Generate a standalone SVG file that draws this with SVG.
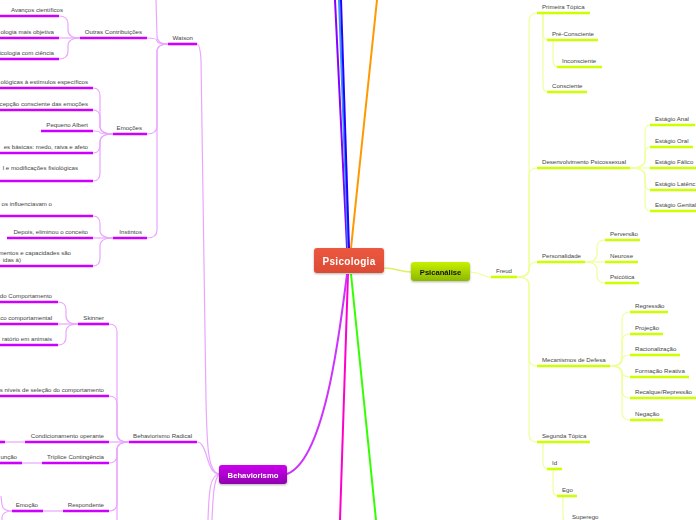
<svg xmlns="http://www.w3.org/2000/svg" width="696" height="520" viewBox="0 0 696 520">
<defs>
<style>
.t{font-family:"Liberation Sans",Arial,sans-serif;font-size:6.1px;fill:#444}
.e{text-anchor:end}
.up{stroke:#cc00ff;stroke-width:2.6}
.uy{stroke:#ccff00;stroke-width:2.6}
.cp{fill:none;stroke:#eaa6ff;stroke-width:1.2}
.cy{fill:none;stroke:#eeff99;stroke-width:1.2}
.m{fill:none;stroke-width:2}
.nt{font-family:"Liberation Sans",Arial,sans-serif;font-weight:bold;text-anchor:middle}
</style>
<linearGradient id="gy" x1="0" y1="0" x2="0" y2="1"><stop offset="0" stop-color="#c8f000"/><stop offset="1" stop-color="#8cb800"/></linearGradient>
<linearGradient id="gp" x1="0" y1="0" x2="0" y2="1"><stop offset="0" stop-color="#cc00ee"/><stop offset="1" stop-color="#9000b0"/></linearGradient>
<linearGradient id="gr" x1="0" y1="0" x2="0" y2="1"><stop offset="0" stop-color="#ec5840"/><stop offset="1" stop-color="#dc4b34"/></linearGradient>
<filter id="sh" x="-20%" y="-20%" width="140%" height="160%"><feDropShadow dx="0" dy="1" stdDeviation="0.8" flood-color="#000" flood-opacity="0.3"/></filter>
</defs>
<rect width="696" height="520" fill="#fff"/>

<g id="connectors">
<path class="m" stroke="#8800ff" d="M347,248 L335,0"/>
<path class="m" stroke="#3399ff" d="M348,248 L339,0"/>
<path class="m" stroke="#2200ff" d="M349,248 L341,0"/>
<path class="m" stroke="#ff9900" d="M351,248 L377,0"/>
<path class="m" stroke="#ff00cc" d="M348,274 L340,520"/>
<path class="m" stroke="#33ff00" d="M351,274 L376,520"/>
<path class="m" stroke="#cc33ff" d="M347,274 C340,330 325,460 287,474"/>
<path fill="none" stroke="#e0f060" stroke-width="1.5" d="M384,268 C396,268 400,272 411,272"/>
<path class="cy" d="M470,272 C482,272 482,277 491,277"/>
<path class="cy" d="M517,277 Q529,277 529,269 L529,23 Q529,13 537,13"/>
<path class="cy" d="M517,277 Q529,277 529,269 L529,176 Q529,168 537,168"/>
<path class="cy" d="M517,277 Q529,277 529,269.5 Q529,262 537,262"/>
<path class="cy" d="M517,277 Q529,277 529,285 L529,358 Q529,366 537,366"/>
<path class="cy" d="M517,277 Q529,277 529,285 L529,434 Q529,442 537,442"/>
<path class="cy" d="M543,13 L543,33 Q543,40 548,40"/>
<path class="cy" d="M543,13 L543,85 Q543,92 548,92"/>
<path class="cy" d="M553,40 L553,60 Q553,67 558,67"/>
<path class="cy" d="M543,442 L543,462 Q543,469 548,469"/>
<path class="cy" d="M553,469 L553,489 Q553,496 558,496"/>
<path class="cy" d="M563,496 L563,516 Q563,523 568,523"/>
<path class="cy" d="M630,168 Q645,168 645,160 L645,133 Q645,125 650,125"/>
<path class="cy" d="M630,168 Q645,168 645,160 L645,155 Q645,147 650,147"/>
<path class="cy" d="M630,168 L650,168"/>
<path class="cy" d="M630,168 Q645,168 645,176 L645,182 Q645,190 650,190"/>
<path class="cy" d="M630,168 Q645,168 645,176 L645,203 Q645,211 650,211"/>
<path class="cy" d="M585,262 Q597,262 597,254 L597,248 Q597,240 605,240"/>
<path class="cy" d="M585,262 L605,262"/>
<path class="cy" d="M585,262 Q597,262 597,270 L597,275 Q597,283 605,283"/>
<path class="cy" d="M610,366 Q622,366 622,358 L622,320 Q622,312 630,312"/>
<path class="cy" d="M610,366 Q622,366 622,358 L622,342 Q622,334 630,334"/>
<path class="cy" d="M610,366 Q622,366 622,360.5 Q622,355 630,355"/>
<path class="cy" d="M610,366 Q622,366 622,371.5 Q622,377 630,377"/>
<path class="cy" d="M610,366 Q622,366 622,374 L622,390 Q622,398 630,398"/>
<path class="cy" d="M610,366 Q622,366 622,374 L622,412 Q622,420 630,420"/>
<path class="cp" d="M219,474 C207,472 207,440 206,400 L201,60 Q200,44 197,44"/>
<path class="cp" d="M219,474 C206,474 208,442 197,442"/>
<path class="cp" d="M219,474 C210,476 209,490 208,520"/>
<path class="cp" d="M219,474 C214,480 213,495 212,520"/>
<path class="cp" d="M168,44 Q157,44 157,36 L156,0"/>
<path class="cp" d="M168,44 Q157,44 157,41 Q157,38 147,38"/>
<path class="cp" d="M168,44 Q157,44 157,52 L157,126 Q157,134 147,134"/>
<path class="cp" d="M168,44 Q157,44 157,52 L157,230 Q157,238 147,238"/>
<path class="cp" d="M80,38 Q68,38 68,30 L68,24 Q68,16 59,16"/>
<path class="cp" d="M80,38 L59,38"/>
<path class="cp" d="M80,38 Q68,38 68,46 L68,51 Q68,59 59,59"/>
<path class="cp" d="M113,134 Q100,134 100,126 L100,96 Q100,88 93,88"/>
<path class="cp" d="M113,134 Q100,134 100,126 L100,118 Q100,110 93,110"/>
<path class="cp" d="M113,134 Q100,134 100,132.5 Q100,131 93,131"/>
<path class="cp" d="M113,134 Q100,134 100,142 L100,145 Q100,153 93,153"/>
<path class="cp" d="M113,134 Q100,134 100,142 L100,173 Q100,181 93,181"/>
<path class="cp" d="M113,238 Q100,238 100,230 L100,224 Q100,216 93,216"/>
<path class="cp" d="M113,238 L93,238"/>
<path class="cp" d="M113,238 Q100,238 100,246 L100,258 Q100,266 93,266"/>
<path class="cp" d="M129,442 Q117,442 117,434 L117,332 Q117,324 109,324"/>
<path class="cp" d="M129,442 Q117,442 117,434 L117,404 Q117,396 109,396"/>
<path class="cp" d="M129,442 L109,442"/>
<path class="cp" d="M129,442 Q117,442 117,450 L117,455 Q117,463 109,463"/>
<path class="cp" d="M129,442 Q117,442 117,450 L117,503 Q117,511 109,511"/>
<path class="cp" d="M129,442 Q117,442 117,450 L117,520"/>
<path class="cp" d="M78,324 Q66,324 66,316 L66,310 Q66,302 58,302"/>
<path class="cp" d="M78,324 L58,324"/>
<path class="cp" d="M78,324 Q66,324 66,332 L66,337 Q66,345 58,345"/>
<path class="cp" d="M25,442 L5,442"/>
<path class="cp" d="M42,463 L22,463"/>
<path class="cp" d="M63,511 L43,511"/>
<path class="cp" d="M12,511 Q3,511 2,505 L1,496"/>
<path class="cp" d="M12,511 Q3,511 2,517 L2,522"/>
</g>

<g id="psicologia" filter="url(#sh)"><rect x="314" y="248" width="70" height="25" rx="3" fill="url(#gr)"/><text class="nt" x="349" y="264.5" font-size="10" fill="#fff" letter-spacing="0.3">Psicologia</text></g>
<g id="psicanalise" filter="url(#sh)"><rect x="411" y="262" width="59" height="19" rx="3" fill="url(#gy)"/><text class="nt" x="440.5" y="274.5" font-size="7.6" fill="#111">Psicanálise</text></g>
<g id="behaviorismo" filter="url(#sh)"><rect x="219" y="465" width="68" height="19" rx="3" fill="url(#gp)"/><text class="nt" x="253" y="477.5" font-size="7.7" fill="#fff">Behaviorismo</text></g>

<g id="right-nodes">
<g id="freud"><line class="uy" x1="491" y1="277" x2="517" y2="277"/><text class="t" x="496" y="273">Freud</text></g>
<g id="primeira"><line class="uy" x1="537" y1="13" x2="590" y2="13"/><text class="t" x="542" y="9">Primeira Tópica</text></g>
<g id="pre"><line class="uy" x1="547" y1="40" x2="598" y2="40"/><text class="t" x="552" y="36">Pré-Consciente</text></g>
<g id="inconsciente"><line class="uy" x1="557" y1="67" x2="602" y2="67"/><text class="t" x="562" y="63">Inconsciente</text></g>
<g id="consciente"><line class="uy" x1="547" y1="92" x2="587" y2="92"/><text class="t" x="552" y="88">Consciente</text></g>
<g id="desenv"><line class="uy" x1="537" y1="168" x2="630" y2="168"/><text class="t" x="542" y="164">Desenvolvimento Psicossexual</text></g>
<g id="anal"><line class="uy" x1="650" y1="125" x2="695" y2="125"/><text class="t" x="655" y="121">Estágio Anal</text></g>
<g id="oral"><line class="uy" x1="650" y1="147" x2="693" y2="147"/><text class="t" x="655" y="143">Estágio Oral</text></g>
<g id="falico"><line class="uy" x1="650" y1="168" x2="696" y2="168"/><text class="t" x="655" y="164">Estágio Fálico</text></g>
<g id="latencia"><line class="uy" x1="650" y1="190" x2="696" y2="190"/><text class="t" x="655" y="186">Estágio Latênc</text></g>
<g id="genital"><line class="uy" x1="650" y1="211" x2="696" y2="211"/><text class="t" x="655" y="207">Estágio Genital</text></g>
<g id="personalidade"><line class="uy" x1="537" y1="262" x2="585" y2="262"/><text class="t" x="542" y="258">Personalidade</text></g>
<g id="perversao"><line class="uy" x1="605" y1="240" x2="640" y2="240"/><text class="t" x="610" y="236">Perversão</text></g>
<g id="neurose"><line class="uy" x1="605" y1="262" x2="638" y2="262"/><text class="t" x="610" y="258">Neurose</text></g>
<g id="psicotica"><line class="uy" x1="605" y1="283" x2="639" y2="283"/><text class="t" x="610" y="279">Psicótica</text></g>
<g id="mecanismos"><line class="uy" x1="537" y1="366" x2="610" y2="366"/><text class="t" x="542" y="362">Mecanismos de Defesa</text></g>
<g id="regressao"><line class="uy" x1="630" y1="312" x2="668" y2="312"/><text class="t" x="635" y="308">Regressão</text></g>
<g id="projecao"><line class="uy" x1="630" y1="334" x2="663" y2="334"/><text class="t" x="635" y="330">Projeção</text></g>
<g id="racionalizacao"><line class="uy" x1="630" y1="355" x2="680" y2="355"/><text class="t" x="635" y="351">Racionalização</text></g>
<g id="formacao"><line class="uy" x1="630" y1="377" x2="689" y2="377"/><text class="t" x="635" y="373">Formação Reativa</text></g>
<g id="recalque"><line class="uy" x1="630" y1="398" x2="696" y2="398"/><text class="t" x="635" y="394">Recalque/Repressão</text></g>
<g id="negacao"><line class="uy" x1="630" y1="420" x2="663" y2="420"/><text class="t" x="635" y="416">Negação</text></g>
<g id="segunda"><line class="uy" x1="537" y1="442" x2="590" y2="442"/><text class="t" x="542" y="438">Segunda Tópica</text></g>
<g id="id"><line class="uy" x1="547" y1="469" x2="562" y2="469"/><text class="t" x="552" y="465">Id</text></g>
<g id="ego"><line class="uy" x1="557" y1="496" x2="577" y2="496"/><text class="t" x="562" y="492">Ego</text></g>
<g id="superego"><line class="uy" x1="567" y1="523" x2="600" y2="523"/><text class="t" x="572" y="519">Superego</text></g>
</g>

<g id="left-nodes">
<g id="avancos"><line class="up" x1="0" y1="16" x2="59" y2="16"/><text class="t e" x="63" y="12">Avanços científicos</text></g>
<g id="objetiva"><line class="up" x1="0" y1="38" x2="59" y2="38"/><text class="t e" x="54" y="34">ologia mais objetiva</text></g>
<g id="ciencia"><line class="up" x1="0" y1="59" x2="59" y2="59"/><text class="t e" x="54" y="55">icologia com ciência</text></g>
<g id="outras"><line class="up" x1="80" y1="38" x2="147" y2="38"/><text class="t e" x="142" y="34">Outras Contribuições</text></g>
<g id="watson"><line class="up" x1="168" y1="44" x2="197" y2="44"/><text class="t e" x="193" y="40">Watson</text></g>
<g id="e1"><line class="up" x1="0" y1="88" x2="93" y2="88"/><text class="t e" x="88" y="84">ológicas à  estímulos específicos</text></g>
<g id="e2"><line class="up" x1="0" y1="110" x2="93" y2="110"/><text class="t e" x="88" y="106">cepção consciente das emoções</text></g>
<g id="albert"><line class="up" x1="41" y1="131" x2="93" y2="131"/><text class="t e" x="88" y="127">Pequeno Albert</text></g>
<g id="emocoes"><line class="up" x1="113" y1="134" x2="147" y2="134"/><text class="t e" x="142" y="130">Emoções</text></g>
<g id="e4"><line class="up" x1="0" y1="153" x2="93" y2="153"/><text class="t e" x="88" y="149">es básicas: medo, raiva e afeto</text></g>
<g id="e5"><line class="up" x1="0" y1="181" x2="93" y2="181"/><text class="t e" x="78" y="170">l e modificações  fisiológicas</text></g>
<g id="i1"><line class="up" x1="0" y1="216" x2="93" y2="216"/><text class="t e" x="52" y="206">os influenciavam o</text></g>
<g id="depois"><line class="up" x1="7" y1="238" x2="93" y2="238"/><text class="t e" x="88" y="234">Depois, eliminou o conceito</text></g>
<g id="instintos"><line class="up" x1="113" y1="238" x2="147" y2="238"/><text class="t e" x="142" y="234">Instintos</text></g>
<g id="i3"><line class="up" x1="0" y1="266" x2="93" y2="266"/><text class="t e" x="71" y="255">mentos e capacidades são</text><text class="t e" x="21" y="262">idas  à)</text></g>
<g id="s1"><line class="up" x1="0" y1="302" x2="58" y2="302"/><text class="t e" x="52" y="298">do Comportamento</text></g>
<g id="s2"><line class="up" x1="0" y1="324" x2="58" y2="324"/><text class="t e" x="52" y="320">co comportamental</text></g>
<g id="skinner"><line class="up" x1="78" y1="324" x2="109" y2="324"/><text class="t e" x="104" y="320">Skinner</text></g>
<g id="s3"><line class="up" x1="0" y1="345" x2="58" y2="345"/><text class="t e" x="52" y="341">ratório em animais</text></g>
<g id="niveis"><line class="up" x1="0" y1="396" x2="109" y2="396"/><text class="t e" x="104" y="392">s níveis de seleção do comportamento</text></g>
<g id="cond0"><line class="up" x1="0" y1="442" x2="5" y2="442"/></g>
<g id="condicionamento"><line class="up" x1="25" y1="442" x2="109" y2="442"/><text class="t e" x="104" y="438">Condicionamento operante</text></g>
<g id="radical"><line class="up" x1="129" y1="442" x2="197" y2="442"/><text class="t e" x="192" y="438">Behaviorismo Radical</text></g>
<g id="funcao"><line class="up" x1="0" y1="463" x2="22" y2="463"/><text class="t e" x="17" y="459">unção</text></g>
<g id="triplice"><line class="up" x1="42" y1="463" x2="109" y2="463"/><text class="t e" x="104" y="459">Tríplice Contingência</text></g>
<g id="emocao"><line class="up" x1="12" y1="511" x2="43" y2="511"/><text class="t e" x="38" y="507">Emoção</text></g>
<g id="respondente"><line class="up" x1="63" y1="511" x2="109" y2="511"/><text class="t e" x="104" y="507">Respondente</text></g>
</g>
</svg>
